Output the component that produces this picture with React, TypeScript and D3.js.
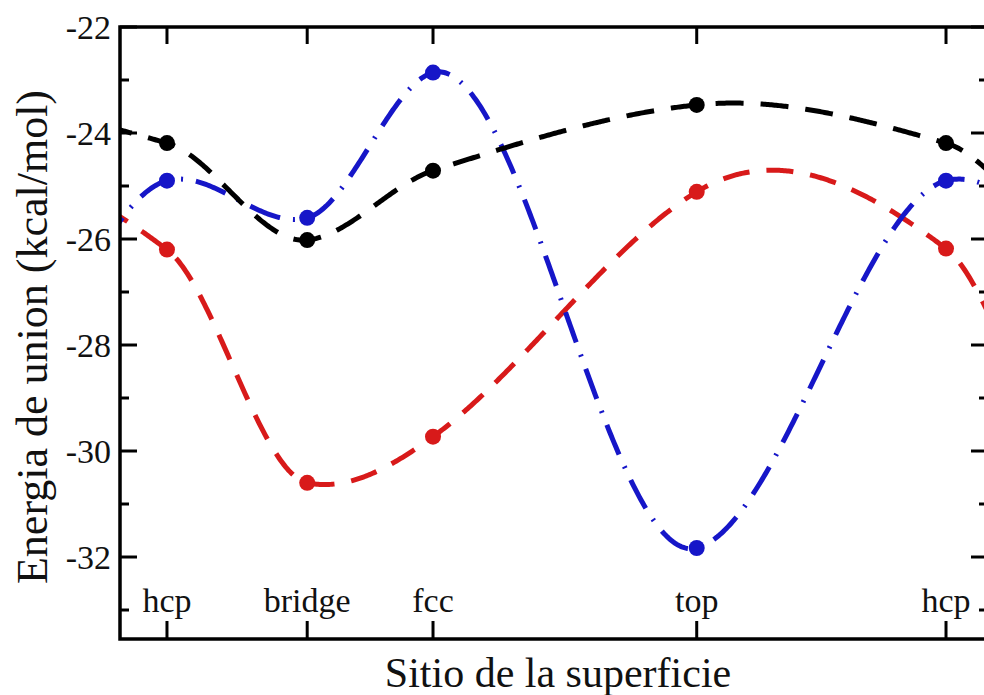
import React from "react";
import * as d3 from "d3";

const siteLabels = ["hcp", "bridge", "fcc", "top", "hcp"];
const sitePos = [0, 0.18, 0.3415, 0.68, 1.0];
const blackValues = [-24.19, -26.02, -24.71, -23.47, -24.19];
const blueValues = [-24.9, -25.6, -22.86, -31.83, -24.9];
const redValues = [-26.2, -30.6, -29.73, -25.11, -26.18];
const yMajorTicks = [-22, -24, -26, -28, -30, -32];
const yMinorTicks = [-23, -25, -27, -29, -31, -33];

const W = 984;
const H = 695;
const left = 120;
const right = 988;
const top = 27;
const bottom = 639;
const font = "'Liberation Serif', 'Times New Roman', serif";

const x = d3.scaleLinear().domain([-0.0603, 1.0539]).range([left, right]);
const y = d3.scaleLinear().domain([-33.547, -22]).range([bottom, top]);

// Akima spline through the knots
function akima(xs: number[], ys: number[]) {
  const n = xs.length;
  const m: number[] = [];
  for (let i = 0; i < n - 1; i++) m.push((ys[i + 1] - ys[i]) / (xs[i + 1] - xs[i]));
  const t: number[] = new Array(n).fill(0);
  for (let i = 0; i < n; i++) {
    if (i < 2 || i > n - 3) {
      t[i] = i === 0 ? m[0] : i === n - 1 ? m[n - 2] : (m[i - 1] + m[i]) / 2;
      continue;
    }
    const w1 = Math.abs(m[i + 1] - m[i]);
    const w2 = Math.abs(m[i - 1] - m[i - 2]);
    t[i] = w1 + w2 === 0 ? (m[i - 1] + m[i]) / 2 : (w1 * m[i - 1] + w2 * m[i]) / (w1 + w2);
  }
  return (v: number) => {
    let i = 0;
    while (i < n - 2 && v > xs[i + 1]) i++;
    const h = xs[i + 1] - xs[i];
    const s = (v - xs[i]) / h;
    const s2 = s * s;
    const s3 = s2 * s;
    return (
      (2 * s3 - 3 * s2 + 1) * ys[i] +
      (s3 - 2 * s2 + s) * h * t[i] +
      (-2 * s3 + 3 * s2) * ys[i + 1] +
      (s3 - s2) * h * t[i + 1]
    );
  };
}

function curvePoints(values: number[]) {
  const xs: number[] = [];
  const ys: number[] = [];
  for (let i = 0; i < 4; i++) {
    xs.push(sitePos[i] - 1);
    ys.push(values[i]);
  }
  for (let i = 0; i < 5; i++) {
    xs.push(sitePos[i]);
    ys.push(values[i]);
  }
  for (let i = 1; i < 4; i++) {
    xs.push(sitePos[i] + 1);
    ys.push(values[i]);
  }
  xs.push(sitePos[0] + 2);
  ys.push(values[0]);
  const f = akima(xs, ys);
  const samples = d3.range(-0.08, 1.08, 0.002);
  return samples.map((v) => [v, f(v)] as [number, number]);
}

const line = d3
  .line<[number, number]>()
  .x((d) => x(d[0]))
  .y((d) => y(d[1]));

const series = [
  { name: "red", values: redValues, color: "#d81a1a", dash: "27,17" },
  { name: "blue", values: blueValues, color: "#1616c8", dash: "32,13,2,13" },
  { name: "black", values: blackValues, color: "#000000", dash: "28,17" },
];

export default function App() {
  return (
    <svg
      width={W}
      height={H}
      style={{ position: "absolute", left: 0, top: 0, background: "#fff" }}
    >
      <defs>
        <clipPath id="plotClip">
          <rect x={left} y={top} width={right - left} height={bottom - top} />
        </clipPath>
      </defs>
      <rect x={0} y={0} width={W} height={H} fill="#fff" />
      <g clipPath="url(#plotClip)">
        {series.map((s) => (
          <path
            key={s.name}
            d={line(curvePoints(s.values)) || ""}
            fill="none"
            stroke={s.color}
            strokeWidth={5}
            strokeDasharray={s.dash}
          />
        ))}
        {series.map((s) => (
          <g key={s.name + "-pts"}>
            {s.values.map((v, i) => (
              <circle key={i} cx={x(sitePos[i])} cy={y(v)} r={8} fill={s.color} />
            ))}
          </g>
        ))}
      </g>
      <rect
        x={left}
        y={top}
        width={right - left}
        height={bottom - top}
        fill="none"
        stroke="#000"
        strokeWidth={3.5}
      />
      {yMajorTicks.map((t) => (
        <g key={"ym" + t}>
          <line x1={left} x2={left + 17} y1={y(t)} y2={y(t)} stroke="#000" strokeWidth={3} />
          <line x1={right} x2={right - 17} y1={y(t)} y2={y(t)} stroke="#000" strokeWidth={3} />
          <text
            x={111}
            y={y(t)}
            dy="0.35em"
            textAnchor="end"
            fontFamily={font}
            fontSize={34}
            fill="#111"
          >
            {t}
          </text>
        </g>
      ))}
      {yMinorTicks.map((t) => (
        <g key={"yn" + t}>
          <line x1={left} x2={left + 9} y1={y(t)} y2={y(t)} stroke="#000" strokeWidth={3} />
          <line x1={right} x2={right - 9} y1={y(t)} y2={y(t)} stroke="#000" strokeWidth={3} />
        </g>
      ))}
      {sitePos.map((p, i) => (
        <g key={"x" + i}>
          <line x1={x(p)} x2={x(p)} y1={bottom} y2={bottom - 18} stroke="#000" strokeWidth={3} />
          <line x1={x(p)} x2={x(p)} y1={top} y2={top + 17} stroke="#000" strokeWidth={3} />
          <text
            x={x(p)}
            y={612}
            textAnchor="middle"
            fontFamily={font}
            fontSize={34}
            fill="#111"
          >
            {siteLabels[i]}
          </text>
        </g>
      ))}
      <text
        x={558}
        y={687}
        textAnchor="middle"
        fontFamily={font}
        fontSize={42}
        fill="#111"
      >
        Sitio de la superficie
      </text>
      <text
        transform={`translate(47, 337) rotate(-90)`}
        textAnchor="middle"
        fontFamily={font}
        fontSize={44}
        fill="#111"
      >
        Energia de union (kcal/mol)
      </text>
    </svg>
  );
}
